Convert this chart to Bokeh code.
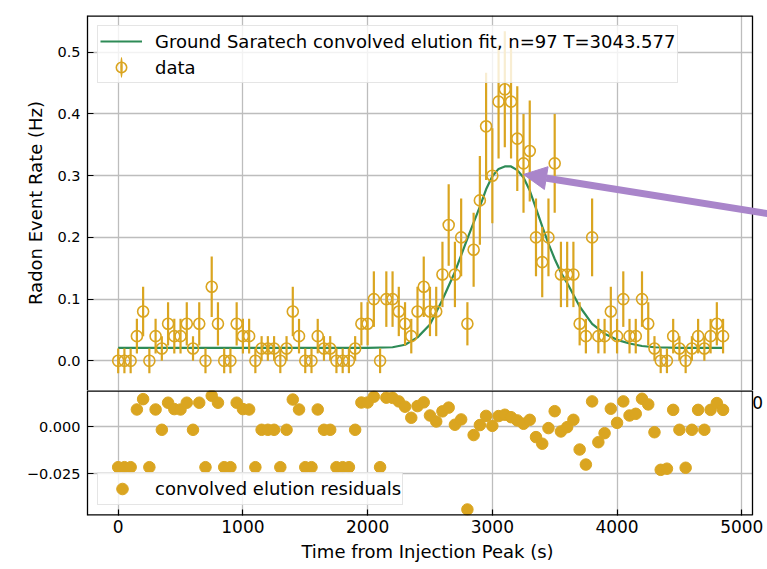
import numpy as np
from bokeh.plotting import figure
from bokeh.layouts import column
from bokeh.models import (Range1d, FixedTicker, Legend, LegendItem, Arrow,
                          NormalHead, Label, ColumnDataSource, Span)
from bokeh.embed import file_html
from bokeh.resources import INLINE

# ---------------- data ----------------
time_s = [0, 50, 100, 150, 200, 250, 300, 350, 400, 450,
          500, 550, 600, 650, 700, 750, 800, 850, 900, 950,
          1000, 1050, 1100, 1150, 1200, 1250, 1300, 1350, 1400, 1450,
          1500, 1550, 1600, 1650, 1700, 1750, 1800, 1850, 1900, 1950,
          2000, 2050, 2100, 2150, 2200, 2250, 2300, 2350, 2400, 2450,
          2500, 2550, 2600, 2650, 2700, 2750, 2800, 2850, 2900, 2950,
          3000, 3050, 3100, 3150, 3200, 3250, 3300, 3350, 3400, 3450,
          3500, 3550, 3600, 3650, 3700, 3750, 3800, 3850, 3900, 3950,
          4000, 4050, 4100, 4150, 4200, 4250, 4300, 4350, 4400, 4450,
          4500, 4550, 4600, 4650, 4700, 4750, 4800, 4850]

rate = [0, 0, 0, 0.04, 0.08, 0, 0.04, 0.02, 0.06, 0.04,
        0.04, 0.06, 0.02, 0.06, 0, 0.12, 0.06, 0, 0, 0.06,
        0.04, 0.04, 0, 0.02, 0.02, 0.02, 0, 0.02, 0.08, 0.04,
        0, 0, 0.04, 0.02, 0.02, 0, 0, 0, 0.02, 0.06,
        0.06, 0.10, 0, 0.10, 0.10, 0.08, 0.06, 0.04, 0.08, 0.12,
        0.08, 0.08, 0.14, 0.22, 0.14, 0.20, 0.06, 0.18, 0.26, 0.38,
        0.30, 0.42, 0.44, 0.42, 0.36, 0.32, 0.34, 0.20, 0.16, 0.20,
        0.32, 0.14, 0.14, 0.14, 0.06, 0.04, 0.20, 0.04, 0.04, 0.08,
        0.04, 0.10, 0.04, 0.04, 0.10, 0.06, 0.02, 0, 0, 0.04,
        0.02, 0, 0.02, 0.04, 0.02, 0.04, 0.06, 0.04]

rate_err = [0.020, 0.020, 0.020, 0.028, 0.040, 0.020, 0.028, 0.020, 0.035, 0.028,
            0.028, 0.035, 0.020, 0.035, 0.020, 0.049, 0.035, 0.020, 0.020, 0.035,
            0.028, 0.028, 0.020, 0.020, 0.020, 0.020, 0.020, 0.020, 0.040, 0.028,
            0.020, 0.020, 0.028, 0.020, 0.020, 0.020, 0.020, 0.020, 0.020, 0.035,
            0.035, 0.045, 0.020, 0.045, 0.045, 0.040, 0.035, 0.028, 0.040, 0.049,
            0.040, 0.040, 0.053, 0.066, 0.053, 0.063, 0.035, 0.060, 0.072, 0.087,
            0.077, 0.092, 0.094, 0.092, 0.085, 0.080, 0.082, 0.063, 0.057, 0.063,
            0.080, 0.053, 0.053, 0.053, 0.035, 0.028, 0.063, 0.028, 0.028, 0.040,
            0.028, 0.045, 0.028, 0.028, 0.045, 0.035, 0.020, 0.020, 0.020, 0.028,
            0.020, 0.020, 0.020, 0.028, 0.020, 0.028, 0.035, 0.028]

residual = [-0.0214, -0.0214, -0.0214, 0.0093, 0.0148, -0.0214, 0.0093, -0.0015, 0.0129, 0.0095,
            0.0093, 0.0129, -0.0015, 0.0129, -0.0214, 0.0166, 0.0129, -0.0214, -0.0214, 0.0129,
            0.0095, 0.0093, -0.0214, -0.0015, -0.0015, -0.0015, -0.0214, -0.0015, 0.0146, 0.0093,
            -0.0214, -0.0214, 0.0093, -0.0015, -0.0015, -0.0214, -0.0214, -0.0214, -0.0015, 0.0130,
            0.0130, 0.0161, -0.0214, 0.0156, 0.0155, 0.0136, 0.0108, 0.0049, 0.0111, 0.0131,
            0.0061, 0.0029, 0.0083, 0.0103, 0.0012, 0.0040, -0.0439, -0.0043, 0.0010, 0.0059,
            0.0006, 0.0058, 0.0065, 0.0052, 0.0035, 0.0017, 0.0038, -0.0054, -0.0089, -0.0006,
            0.0084, -0.0024, -0.0001, 0.0038, -0.0120, -0.0200, 0.0136, -0.0081, -0.0033, 0.0097,
            0.0022, 0.0136, 0.0061, 0.0070, 0.0150, 0.0120, -0.0028, -0.0228, -0.0222, 0.0091,
            -0.0015, -0.0217, -0.0015, 0.0091, -0.0015, 0.0091, 0.0127, 0.0091]

fit_t = [0, 2000, 2200, 2300, 2400, 2500, 2600, 2700, 2800, 2900, 2950, 3000,
         3050, 3100, 3150, 3200, 3250, 3300, 3350, 3400, 3450, 3500, 3550, 3600,
         3700, 3800, 3900, 4000, 4100, 4200, 4300, 4500, 4850]
fit_v = [0.021, 0.021, 0.022, 0.026, 0.038, 0.059, 0.099, 0.144, 0.198, 0.250, 0.278, 0.299,
         0.311, 0.315, 0.315, 0.309, 0.297, 0.276, 0.247, 0.218, 0.190, 0.165, 0.143, 0.126,
         0.088, 0.060, 0.044, 0.034, 0.028, 0.024, 0.022, 0.021, 0.021]

x_ticks = [0, 1000, 2000, 3000, 4000, 5000]
top_y_ticks = [0.0, 0.1, 0.2, 0.3, 0.4, 0.5]
bot_y_ticks = [0.0, -0.025]

fit_label = "Ground Saratech convolved elution fit, n=97 T=3043.577"
data_label = "data"
res_label = "convolved elution residuals"

# ---------------- styling / geometry ----------------
GOLD = "#DAA520"
GREEN = "#2E8B57"
PURPLE = "#A985CA"
GRID = "#bdbdbd"
FONT = "DejaVu Sans"
FS_YTICK = "14.5px"
FS_XTICK = "17px"
FS_LABEL = "18px"
FS_LEG = "18px"

X_MIN, X_MAX = -246, 5086            # axes limits (right spine at X_MAX)
Y1 = (-0.0481, 0.5596)                # top panel limits
Y2 = (-0.0471, 0.0194)                # residual panel limits
AX_W, EXTRA_W = 665, 15               # axes width, page strip right of the spine
TOP_H, BOT_H = 375, 125               # panel heights
X_END = X_MAX + EXTRA_W * (X_MAX - X_MIN) / AX_W

src = ColumnDataSource(dict(
    t=time_s, r=rate,
    lo=[a - b for a, b in zip(rate, rate_err)],
    hi=[a + b for a, b in zip(rate, rate_err)],
    res=residual))


def style(p):
    p.outline_line_color = None
    p.background_fill_color = "white"
    p.border_fill_color = "white"
    for ax in p.axis:
        ax.axis_line_color = "black"
        ax.axis_line_width = 1.3
        ax.major_tick_in = 6
        ax.major_tick_out = 0
        ax.major_tick_line_color = "black"
        ax.major_tick_line_width = 1.2
        ax.minor_tick_line_color = None
        ax.major_label_text_font = FONT
        ax.major_label_text_color = "black"
        ax.axis_label_text_font = FONT
        ax.axis_label_text_font_size = FS_LABEL
        ax.axis_label_text_font_style = "normal"
        ax.axis_label_text_color = "black"
    for g in p.grid:
        g.grid_line_color = GRID
        g.grid_line_width = 1.3


def right_strip(p, y0, y1):
    # blank page area to the right of the axes (hides grid lines there)
    p.quad(left=[X_MAX], right=[X_END], bottom=[y0], top=[y1],
           fill_color="white", line_color=None)
    p.add_layout(Span(location=X_MAX, dimension="height", line_color="black",
                      line_width=1.3))


# ---------------- top panel ----------------
p1 = figure(frame_width=AX_W + EXTRA_W, frame_height=TOP_H, min_border_left=87,
            min_border_right=0, min_border_top=15, min_border_bottom=0,
            x_range=Range1d(X_MIN, X_END), y_range=Range1d(*Y1),
            output_backend="svg", toolbar_location=None)

right_strip(p1, *Y1)
p1.line([X_MIN, X_MAX], [Y1[1], Y1[1]], line_color="black", line_width=2.6)

fit_r = p1.line(fit_t, fit_v, line_color=GREEN, line_width=2.2)
p1.segment(x0="t", y0="lo", x1="t", y1="hi", source=src, line_color=GOLD, line_width=2.2)
p1.scatter(x="t", y="r", source=src, marker="circle", size=11, fill_color=None,
           line_color=GOLD, line_width=1.6)

# legend proxies for the error-bar marker (nothing is drawn in the plot area):
# a very thin upright ellipse shows up in the legend as the vertical error bar
nan = float("nan")
leg_bar = p1.ellipse(x=[nan], y=[nan], width=2.4, height=20,
                     width_units="screen", height_units="screen",
                     fill_color=GOLD, line_color=None)
leg_circ = p1.scatter(x=[nan], y=[nan], marker="circle", size=11, fill_color=None,
                      line_color=GOLD, line_width=1.6)

p1.xaxis.visible = False
p1.yaxis.ticker = FixedTicker(ticks=top_y_ticks)
p1.yaxis.axis_label = "Radon Event Rate (Hz)"
style(p1)
p1.yaxis.major_label_text_font_size = FS_YTICK
p1.yaxis.major_label_overrides = {v: f"{v:.1f}" for v in top_y_ticks}
p1.yaxis.major_label_standoff = 7
p1.yaxis.axis_label_standoff = 8
p1.xgrid.ticker = FixedTicker(ticks=x_ticks)
p1.ygrid.ticker = FixedTicker(ticks=top_y_ticks)

leg1 = Legend(items=[LegendItem(label=fit_label, renderers=[fit_r]),
                     LegendItem(label=data_label, renderers=[leg_bar, leg_circ])],
              location="top_left", margin=10, padding=2, spacing=0,
              label_height=26, glyph_height=26, glyph_width=42, label_standoff=13,
              label_text_font=FONT, label_text_font_size=FS_LEG, label_text_color="black",
              background_fill_color="white", background_fill_alpha=0.8,
              border_line_color="#cccccc", border_line_width=1)
p1.add_layout(leg1)

arrow = Arrow(end=NormalHead(size=23, fill_color=PURPLE, line_color=PURPLE, line_width=1),
              x_start=5600, y_start=0.2258, x_end=3250, y_end=0.302,
              line_color=PURPLE, line_width=7)
p1.add_layout(arrow)

# ---------------- residual panel ----------------
p2 = figure(frame_width=AX_W + EXTRA_W, frame_height=BOT_H, min_border_left=87,
            min_border_right=0, min_border_top=0, min_border_bottom=54,
            x_range=p1.x_range, y_range=Range1d(*Y2),
            output_backend="svg", toolbar_location=None)

right_strip(p2, *Y2)

res_r = p2.scatter(x="t", y="res", source=src, marker="circle", size=11.5,
                   fill_color=GOLD, line_color=GOLD)

p2.line([X_MIN, X_MAX], [Y2[1], Y2[1]], line_color="black", line_width=2.6)
p2.line([X_MIN, X_MAX], [Y2[0], Y2[0]], line_color="black", line_width=2.6)

p2.xaxis.ticker = FixedTicker(ticks=x_ticks)
p2.yaxis.ticker = FixedTicker(ticks=bot_y_ticks)
p2.xaxis.axis_label = "Time from Injection Peak (s)"
style(p2)
p2.xaxis.axis_line_color = None
p2.xaxis.major_label_text_font_size = FS_XTICK
p2.yaxis.major_label_text_font_size = FS_YTICK
p2.yaxis.major_label_overrides = {0.0: "0.000", -0.025: "\u22120.025"}
p2.yaxis.major_label_standoff = 7
p2.xaxis.major_label_standoff = 4
p2.xaxis.axis_label_standoff = 5
p2.xgrid.ticker = FixedTicker(ticks=x_ticks)
p2.ygrid.ticker = FixedTicker(ticks=bot_y_ticks)

leg2 = Legend(items=[LegendItem(label=res_label, renderers=[res_r])],
              location="bottom_left", margin=10, padding=1, spacing=0,
              label_height=29, glyph_height=29, glyph_width=46, label_standoff=10,
              label_text_font=FONT, label_text_font_size=FS_LEG, label_text_color="black",
              background_fill_color="white", background_fill_alpha=0.8,
              border_line_color="#cccccc", border_line_width=1)
p2.add_layout(leg2)

# the last digit of the top panel's hidden "5000" tick label, peeking out at the right
p2.add_layout(Label(x=5128, y=0.013, text="0", text_align="center", text_baseline="middle",
                    text_font=FONT, text_font_size=FS_XTICK, text_color="black"))

layout = column(p1, p2, spacing=0)
open("out.html", "w").write(file_html(layout, INLINE))
